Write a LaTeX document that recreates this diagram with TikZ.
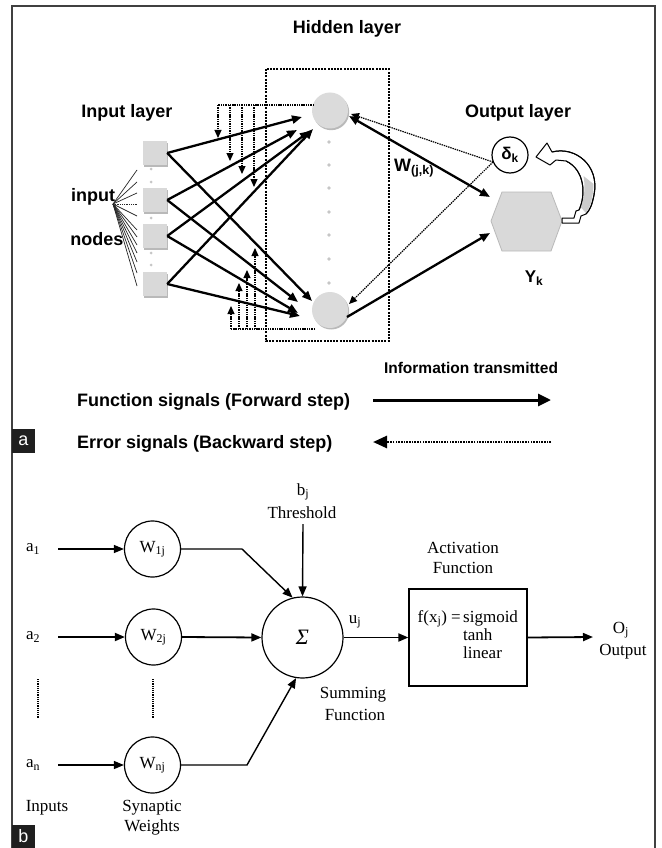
\documentclass[tikz,border=0pt]{standalone}
\usepackage{fontspec}
\setmainfont{Liberation Serif}
\setsansfont{Liberation Sans}
\usetikzlibrary{arrows.meta}
\begin{document}
\begin{tikzpicture}[x=1pt,y=-1pt,
  lab/.style={font=\sffamily\bfseries\fontsize{18}{20}\selectfont, inner sep=0pt},
  fwd/.style={line width=2.3pt, -{Triangle[length=10pt,width=8pt]}},
  dotl/.style={line width=1.2pt, dash pattern=on 1.4pt off 0.9pt},
  bwd/.style={dotl, -{Triangle[length=8pt,width=7pt]}},
  hid/.style={circle, minimum size=36pt, inner sep=0pt, fill=gray!28},
  shd/.style={fill=gray!55},
  sqn/.style={minimum size=24pt, inner sep=0pt, fill=gray!30},
  tiny/.style={circle, minimum size=3.6pt, inner sep=0pt, fill=gray!45},
  fanl/.style={line width=0.7pt, black!85},
  ser/.style={font=\fontsize{17}{19}\selectfont, inner sep=0pt},
  bline/.style={line width=1.4pt},
  barr/.style={line width=1.4pt, -{Triangle[length=10pt,width=8pt]}},
  wn/.style={circle, draw, line width=1.2pt, minimum size=56pt, inner sep=0pt, font=\fontsize{17}{19}\selectfont},
  frame/.style={line width=1.5pt, black!75},
  tag/.style={fill=black!88, text=white, font=\sffamily\fontsize{18}{18}\selectfont, minimum width=23pt, minimum height=24pt, inner sep=0pt},
]
\useasboundingbox (0,0) rectangle (661,848);
\fill[white] (0,0) rectangle (661,848);
% frame
\draw[frame] (12,848) -- (12,6) -- (655,6) -- (655,848);
\node[tag] (taga) at (23.5,441) {a};
\node[tag] (tagb) at (23.5,836.5) {b};

% ===== part a =====
\node[lab] (thid) at (347,29) {Hidden layer};
\node[lab] (tin) at (127,113) {Input layer};
\node[lab] (tout) at (518,113) {Output layer};
\node[lab] (tinput) at (93,197) {input};
\node[lab] (tnodes) at (97,239) {nodes};

% hidden dashed box
\draw[line width=2pt, dash pattern=on 2pt off 1.2pt] (266,69) rectangle (389,341);

% hidden nodes
\fill[shd] (331.2,112.2) circle (18);
\node[hid] (h1) at (330,110.5) {};
\fill[shd] (331.2,311.5) circle (18);
\node[hid] (h2) at (330,310) {};
\foreach \yy [count=\i] in {142,165,188,212,235,259,283}
  \node[tiny] (hd\i) at (329,\yy) {};

% input nodes
\foreach \yy in {153,200,236,284} {
  \fill[shd] (144.3,\yy-10.5) rectangle (168.3,\yy+13.5);
}
\node[sqn] (s1) at (155,153) {};
\node[sqn] (s2) at (155,200) {};
\node[sqn] (s3) at (155,236) {};
\node[sqn] (s4) at (155,284) {};
\foreach \yy [count=\i] in {169,182,218,253,265}
  \node[tiny, minimum size=3pt] (sd\i) at (151,\yy) {};

% fan lines
\coordinate (fan) at (113,204);
\foreach \yy [count=\i] in {170,182,193,216,230,237,245,253,262,273,286} {
  \coordinate (fe\i) at (137,\yy);
  \draw[fanl] (fan) -- (fe\i);
}
\coordinate (fm) at (137,204);
\draw[fanl, dash pattern=on 1pt off 0.8pt] (fan) -- (fm);

% forward connections input -> hidden
\coordinate (t11) at (302,117);
\coordinate (t21) at (297,130);
\coordinate (t31) at (310,131);
\coordinate (t41) at (313,129);
\coordinate (t12) at (312,301);
\coordinate (t22) at (298,302);
\coordinate (t32) at (298,313);
\coordinate (t42) at (300,316);
\foreach \i in {1,2,3,4} {
  \draw[fwd] (s\i.east) -- (t\i1);
  \draw[fwd] (s\i.east) -- (t\i2);
}

% feedback dotted lines (top)
\coordinate (fbt) at (314,105);
\coordinate (fbt0) at (218,105);
\draw[dotl] (fbt) -- (fbt0);
\foreach \xx/\yy [count=\i] in {218/138,230/161,242/174,254/187} {
  \coordinate (ft\i a) at (\xx,105);
  \coordinate (ft\i b) at (\xx,\yy);
  \draw[bwd] (ft\i a) -- (ft\i b);
}
% feedback dotted lines (bottom)
\coordinate (fbb) at (315,329);
\coordinate (fbb0) at (230,329);
\draw[dotl] (fbb) -- (fbb0);
\foreach \xx/\yy [count=\i] in {231/306,239/283,247/270,255/248} {
  \coordinate (fb\i a) at (\xx,329);
  \coordinate (fb\i b) at (\xx,\yy);
  \draw[bwd] (fb\i a) -- (fb\i b);
}

% output layer
\coordinate (hex) at (527,221);
\fill[gray!30] (491,221) -- (502,192) -- (551,192) -- (562,221) -- (551,251) -- (502,251) -- cycle;
\draw[gray!55, line width=0.8pt] (491,221) -- (502,192) -- (551,192) -- (562,221) -- (551,251) -- (502,251) -- cycle;
\node[lab, font=\sffamily\bfseries\fontsize{17}{18}\selectfont] (yk) at (534,278) {Y\textsubscript{k}};
\node[circle, draw, line width=1.2pt, minimum size=36pt, inner sep=0pt,
      font=\sffamily\bfseries\fontsize{17}{18}\selectfont] (dk) at (510,155) {δ\textsubscript{k}};
\coordinate (dko) at (493,162);
\coordinate (hx1) at (490,197);
\coordinate (hx2) at (490,233);
\coordinate (h1e) at (349,116);
\coordinate (h1d) at (351,114);
\coordinate (h2d) at (349,304);
\coordinate (h2e) at (347,317);
\draw[bwd] (dko) -- (h1d);
\draw[bwd] (dko) -- (h2d);
\draw[fwd, {Triangle[length=10pt,width=8pt]}-{Triangle[length=10pt,width=8pt]}] (h1e) -- (hx1);
\draw[fwd] (h2e) -- (hx2);
\node[lab, anchor=west] (wjk) at (394,168) {W\textsubscript{(j,k)}};

% curved feedback block arrow
\draw[line width=1pt, fill=white, line join=round]
  (562,218) -- (574,218) -- (576,211) -- (579,210)
  .. controls (586,195) and (585,170) .. (566,161)
  -- (556,160) -- (550,165) -- (536,157) -- (547,143) -- (552,152)
  .. controls (575,146) and (600,165) .. (594,195)
  .. controls (592,205) and (590,210) .. (586,214)
  -- (581,216) -- (579,223) -- (562,223) -- cycle;
\fill[gray!40] (580.5,207) .. controls (584.5,197) and (585.5,187) .. (583.5,176)
  -- (593.5,184) .. controls (593,198) and (590.5,207) .. (586,213) -- cycle;
\draw[line width=1pt, line join=round]
  (579,210) .. controls (586,195) and (585,170) .. (566,161);
\draw[line width=1pt, line join=round]
  (552,152) .. controls (575,146) and (600,165) .. (594,195)
  .. controls (592,205) and (590,210) .. (586,214);

% legend
\node[lab, font=\sffamily\bfseries\fontsize{15.5}{17}\selectfont] (info) at (471,368) {Information transmitted};
\node[lab, anchor=west] (fs) at (77,402) {Function signals (Forward step)};
\node[lab, anchor=west] (es) at (77,444) {Error signals (Backward step)};
\coordinate (la) at (373,400);
\coordinate (lb) at (551,400);
\draw[line width=3pt, -{Triangle[length=13pt,width=12pt]}] (la) -- (lb);
\coordinate (lc) at (551,442);
\coordinate (ld) at (373,442);
\draw[line width=2.6pt, dash pattern=on 1.6pt off 1.1pt, -{Triangle[length=14pt,width=12pt]}] (lc) -- (ld);

% ===== part b =====
\node[ser] (a1) at (33,549) {a\textsubscript{1}};
\node[ser] (a2) at (33,637) {a\textsubscript{2}};
\node[ser] (an) at (33,765) {a\textsubscript{n}};
\node[wn] (w1) at (152.5,549) {W\textsubscript{1j}};
\node[wn] (w2) at (153.5,637) {W\textsubscript{2j}};
\node[wn] (wn) at (152.5,765) {W\textsubscript{nj}};
\node[circle, draw, line width=1.2pt, minimum size=81pt, inner sep=0pt,
      font=\itshape\fontsize{22}{22}\selectfont] (sum) at (302.5,637.5) {Σ};
\coordinate (a1e) at (58,549);
\coordinate (a2e) at (58,637);
\coordinate (ane) at (58,765);
\draw[barr] (a1e) -- (w1.west);
\draw[barr, line width=1.8pt] (a2e) -- (w2.west);
\draw[barr] (ane) -- (wn.west);
\coordinate (d1a) at (38,679);
\coordinate (d1b) at (38,718);
\coordinate (d2a) at (153,679);
\coordinate (d2b) at (153,718);
\draw[line width=1.3pt, dash pattern=on 1.2pt off 1pt] (d1a) -- (d1b);
\draw[line width=1.3pt, dash pattern=on 1.2pt off 1pt] (d2a) -- (d2b);
\coordinate (k1) at (242,549);
\coordinate (kn) at (247,765);
\draw[barr] (w1.east) -- (k1) -- (sum.104);
\draw[barr, line width=1.8pt] (w2.east) -- (sum.west);
\draw[barr] (wn.east) -- (kn) -- (sum.-99);
\node[ser] (bj) at (303,492) {b\textsubscript{j}};
\node[ser] (thr) at (302,513) {Threshold};
\coordinate (thra) at (303,524);
\draw[barr] (thra) -- (sum.north);
\node[ser] (uj) at (355,622) {u\textsubscript{j}};
\node[draw, line width=1.2pt, minimum width=118pt, minimum height=97pt, inner sep=0pt] (act) at (468,637.5) {};
\draw[barr, line width=1.8pt] (sum.east) -- (act.west);
\node[ser] (actt1) at (463,548) {Activation};
\node[ser] (actt2) at (463,568) {Function};
\node[ser, anchor=base east] (fx) at (461,622) {f(x\textsubscript{j}) =};
\node[ser, anchor=base west] (sg) at (463,622) {sigmoid};
\node[ser, anchor=base west] (th) at (463,640) {tanh};
\node[ser, anchor=base west] (li) at (463,658) {linear};
\coordinate (oe) at (593,637);
\draw[barr, line width=1.8pt] (act.east) -- (oe);
\node[ser] (oj) at (621,630) {O\textsubscript{j}};
\node[ser] (outp) at (623,652) {Output};
\node[ser] (sm1) at (353,695) {Summing};
\node[ser] (sm2) at (355,715) {Function};
\node[ser] (inps) at (47,808) {Inputs};
\node[ser] (syn1) at (152,808) {Synaptic};
\node[ser] (syn2) at (152,827) {Weights};
\end{tikzpicture}
\end{document}
